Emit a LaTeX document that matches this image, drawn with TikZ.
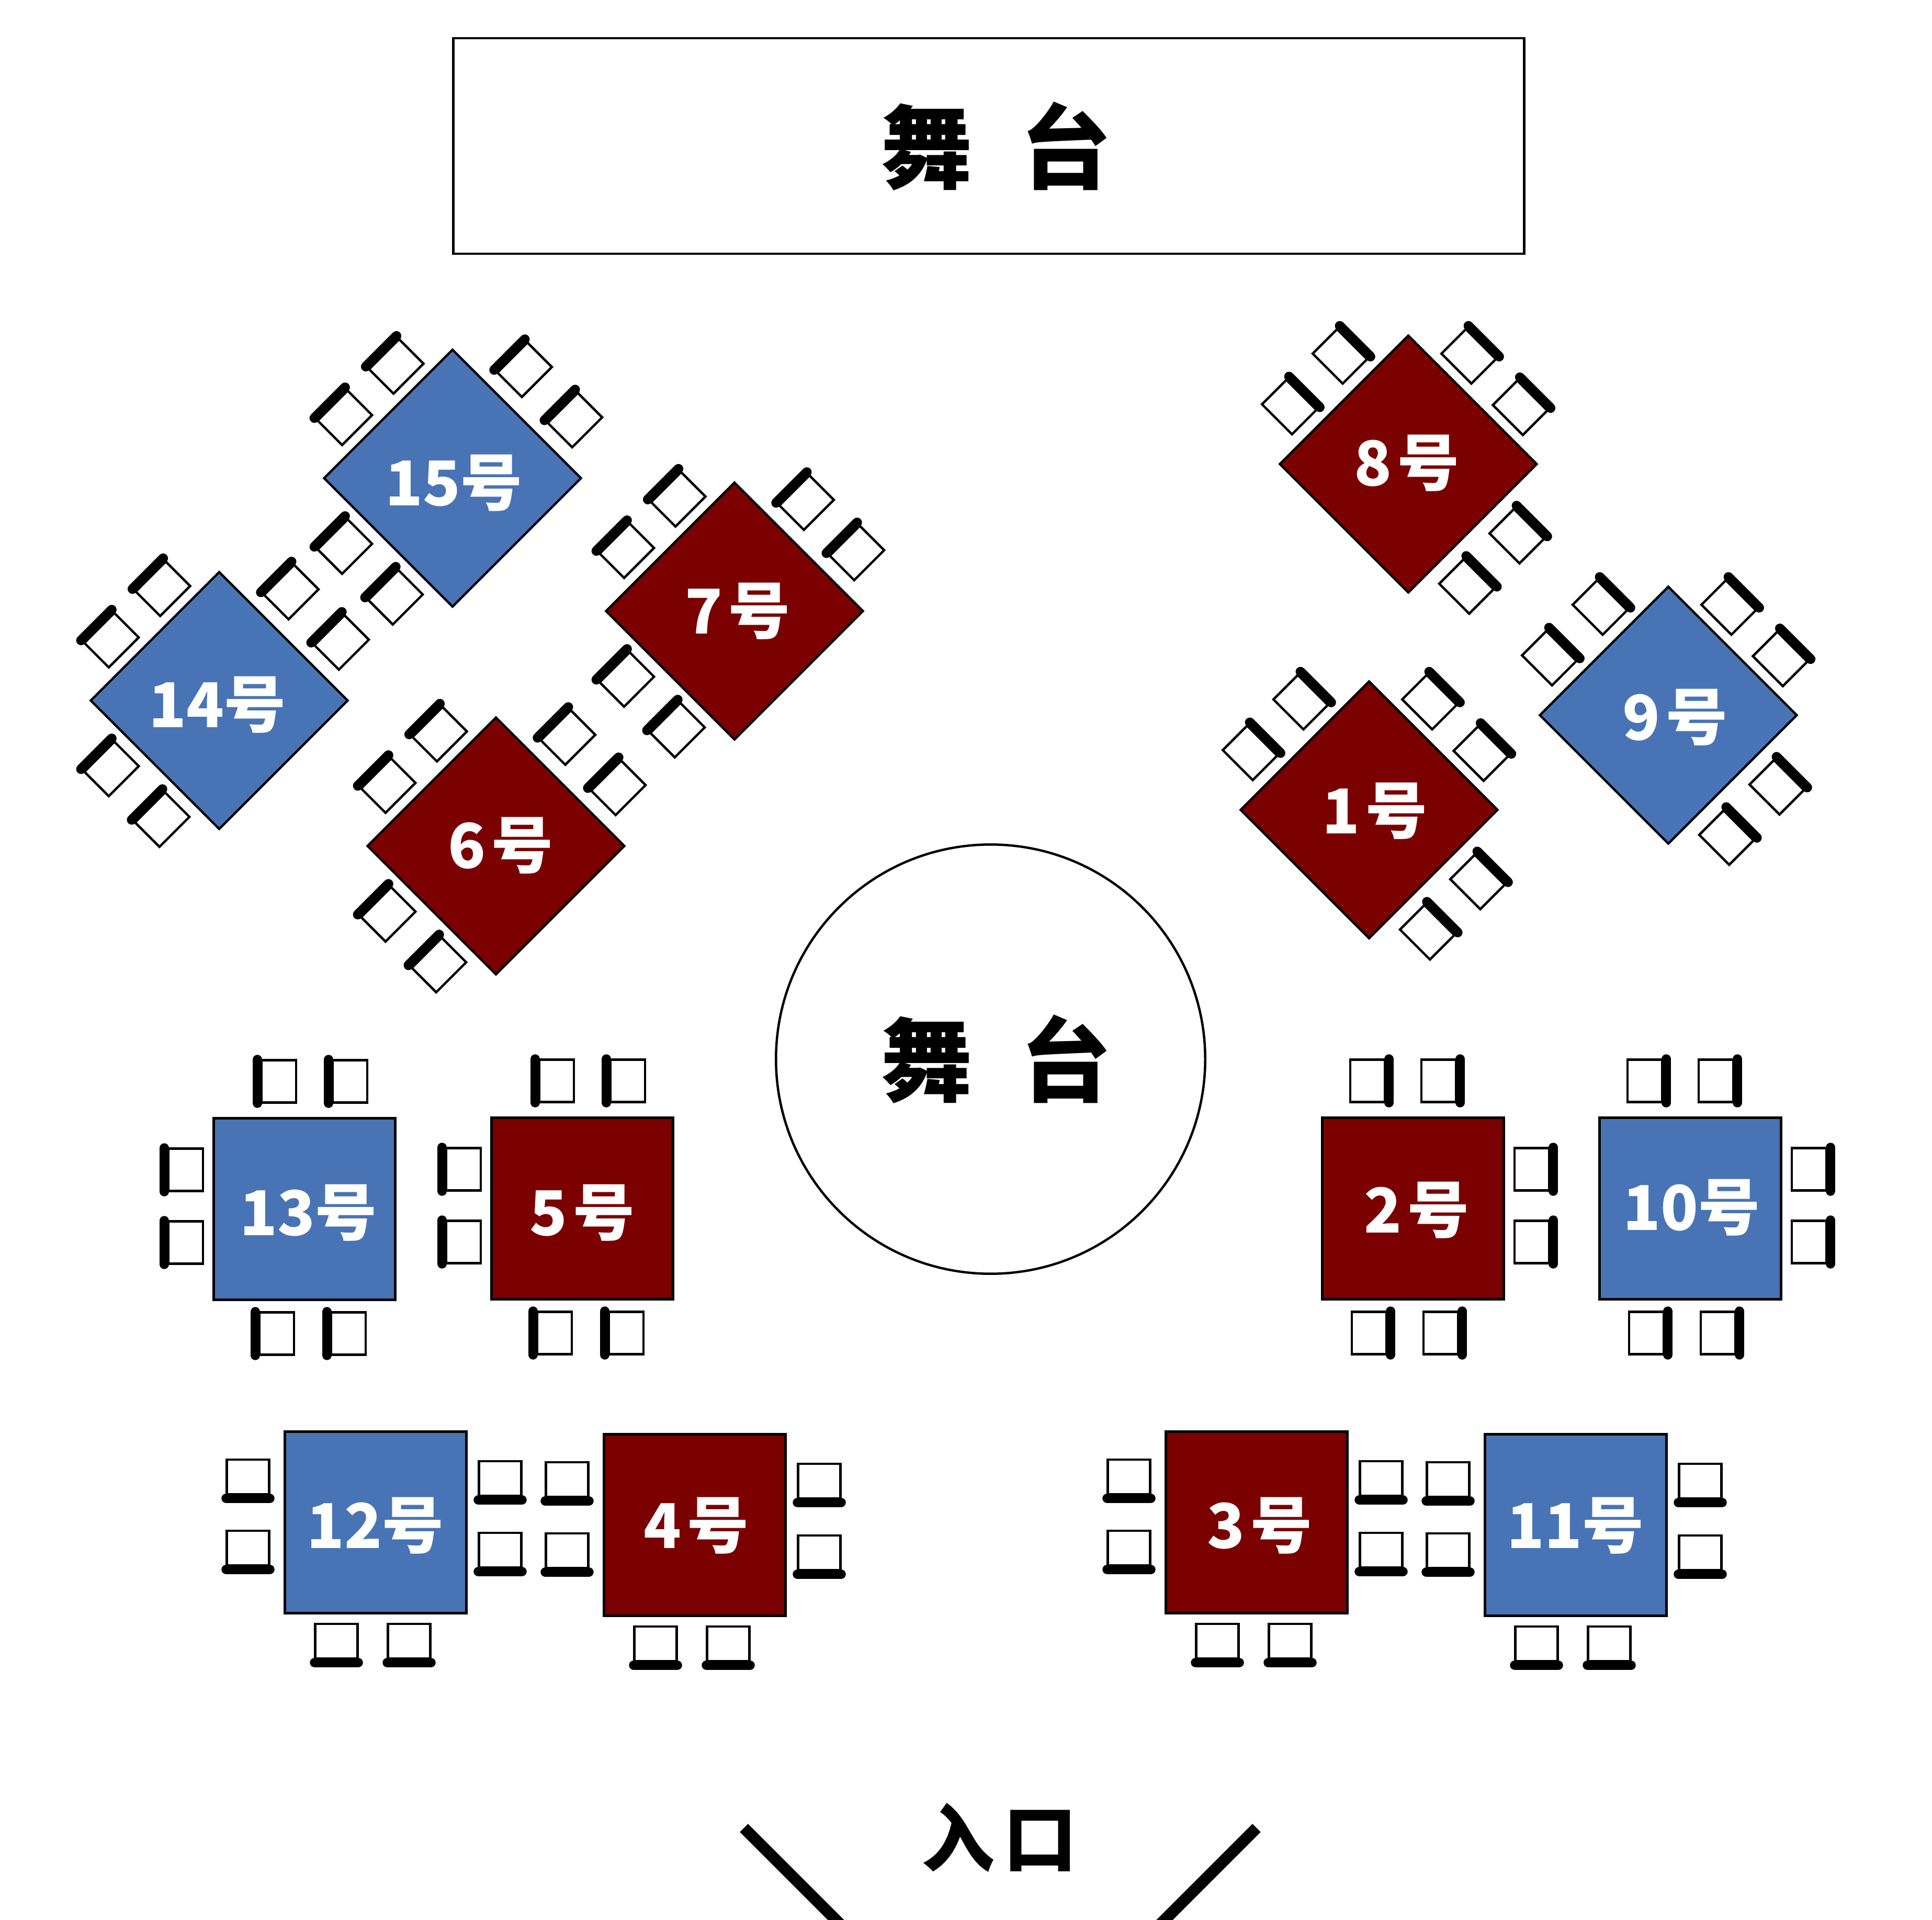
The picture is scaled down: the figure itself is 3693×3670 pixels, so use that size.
\documentclass[tikz,border=0pt]{standalone}
\usepackage{fontspec}
\usepackage{xcolor}
\usetikzlibrary{shapes.geometric}
\newfontfamily\cjk{Noto Sans CJK SC}
\definecolor{tableblue}{HTML}{4874B6}
\definecolor{tablered}{HTML}{7B0000}
\tikzset{
  x=0.01cm, y=-0.01cm,
  chairbox/.style={draw=black, fill=white, line width=0.045cm},
  chairbar/.style={draw=black, line width=0.185cm, line cap=round},
  tablebox/.style={rectangle, draw=black, line width=0.045cm, minimum size=3.47cm, inner sep=0pt, outer sep=0pt, transform shape},
  tableB/.style={tablebox, fill=tableblue},
  tableR/.style={tablebox, fill=tablered},
  tablelabel/.style={font=\cjk\bfseries\fontsize{33.6}{36}\selectfont, text=white, inner sep=0pt},
  stagebox/.style={draw=black, fill=white, line width=0.045cm, inner sep=0pt, outer sep=0pt},
  stagelabel/.style={font=\cjk\bfseries\fontsize{49.5}{52}\selectfont, text=black, inner sep=0pt},
  doorlabel/.style={font=\cjk\bfseries\fontsize{39.8}{44}\selectfont, text=black, inner sep=0pt},
  doorline/.style={draw=black, line width=0.22cm},
  pics/chair/.style={code={
    \draw[chairbox] (-33,-40.5) rectangle (33,40.5);
    \draw[chairbar] (-41,-41.5) -- (-41,41.5);
  }},
  pics/tableset/.style={code={
    \node[#1] (-box) at (0,0) {};
    \pic[transform shape] at (-49,-244) {chair};
    \pic[transform shape] at (87,-244) {chair};
    \pic[transform shape] at (-227,-75) {chair};
    \pic[transform shape] at (-227,64) {chair};
    \pic[transform shape] at (-53,238) {chair};
    \pic[transform shape] at (84,238) {chair};
  }},
}
\begin{document}
\begin{tikzpicture}
\useasboundingbox (0,0) rectangle (3693,3670);
\node[stagebox, rectangle, minimum width=20.46cm, minimum height=4.12cm] (stage) at (1890,279) {};
\node[stagebox, circle, minimum size=8.2cm] (stagecircle) at (1893.5,2024.5) {};
\node[stagelabel] (stagetext) at (1905,279) {舞\hspace{0.53em}台};
\node[stagelabel] (circletext) at (1905,2024) {舞\hspace{0.53em}台};
% tables, north side
\pic[rotate=-45] (t15) at (865,914) {tableset=tableB};
\pic[rotate=-45] (t14) at (419,1339) {tableset=tableB};
\pic[rotate=-45] (t7) at (1404,1168) {tableset=tableR};
\pic[rotate=-45] (t6) at (948,1617) {tableset=tableR};
\pic[rotate=-135] (t8) at (2692,887) {tableset=tableR};
\pic[rotate=-135] (t9) at (3189,1367) {tableset=tableB};
\pic[rotate=-135] (t1) at (2617,1548) {tableset=tableR};
% tables, middle row
\pic (t13) at (582,2311) {tableset=tableB};
\pic (t5) at (1113,2310) {tableset=tableR};
\pic[xscale=-1] (t2) at (2701,2310) {tableset=tableR};
\pic[xscale=-1] (t10) at (3231,2310) {tableset=tableB};
% tables, south row
\pic[rotate=90] (t12) at (718,2910) {tableset=tableB};
\pic[rotate=90] (t4) at (1328,2915) {tableset=tableR};
\pic[rotate=90] (t3) at (2402,2910) {tableset=tableR};
\pic[rotate=90] (t11) at (3012,2915) {tableset=tableB};
% table numbers
\node[tablelabel] (n15) at (868,923) {15号};
\node[tablelabel] (n14) at (416,1347) {14号};
\node[tablelabel] (n7) at (1410,1168) {7\hspace{0.1em}号};
\node[tablelabel] (n6) at (957,1616) {6\hspace{0.1em}号};
\node[tablelabel] (n8) at (2689,885) {8\hspace{0.1em}号};
\node[tablelabel] (n9) at (3202,1371) {9\hspace{0.1em}号};
\node[tablelabel] (n1) at (2628,1550) {1\hspace{0.1em}号};
\node[tablelabel] (n13) at (590,2318) {13号};
\node[tablelabel] (n5) at (1113,2318) {5\hspace{0.1em}号};
\node[tablelabel] (n2) at (2708,2313) {2\hspace{0.1em}号};
\node[tablelabel] (n10) at (3234,2308) {10号};
\node[tablelabel] (n12) at (718,2916) {12号};
\node[tablelabel] (n4) at (1331,2916) {4\hspace{0.1em}号};
\node[tablelabel] (n3) at (2408,2916) {3\hspace{0.1em}号};
\node[tablelabel] (n11) at (3012,2916) {11号};
% entrance
\node[doorlabel] (door) at (1910,3513) {入\hspace{0.12em}口};
\coordinate (doorLa) at (1422,3494);
\coordinate (doorLb) at (1618,3690);
\coordinate (doorRa) at (2402,3494);
\coordinate (doorRb) at (2206,3690);
\draw[doorline] (doorLa) -- (doorLb);
\draw[doorline] (doorRa) -- (doorRb);
\end{tikzpicture}
\end{document}
